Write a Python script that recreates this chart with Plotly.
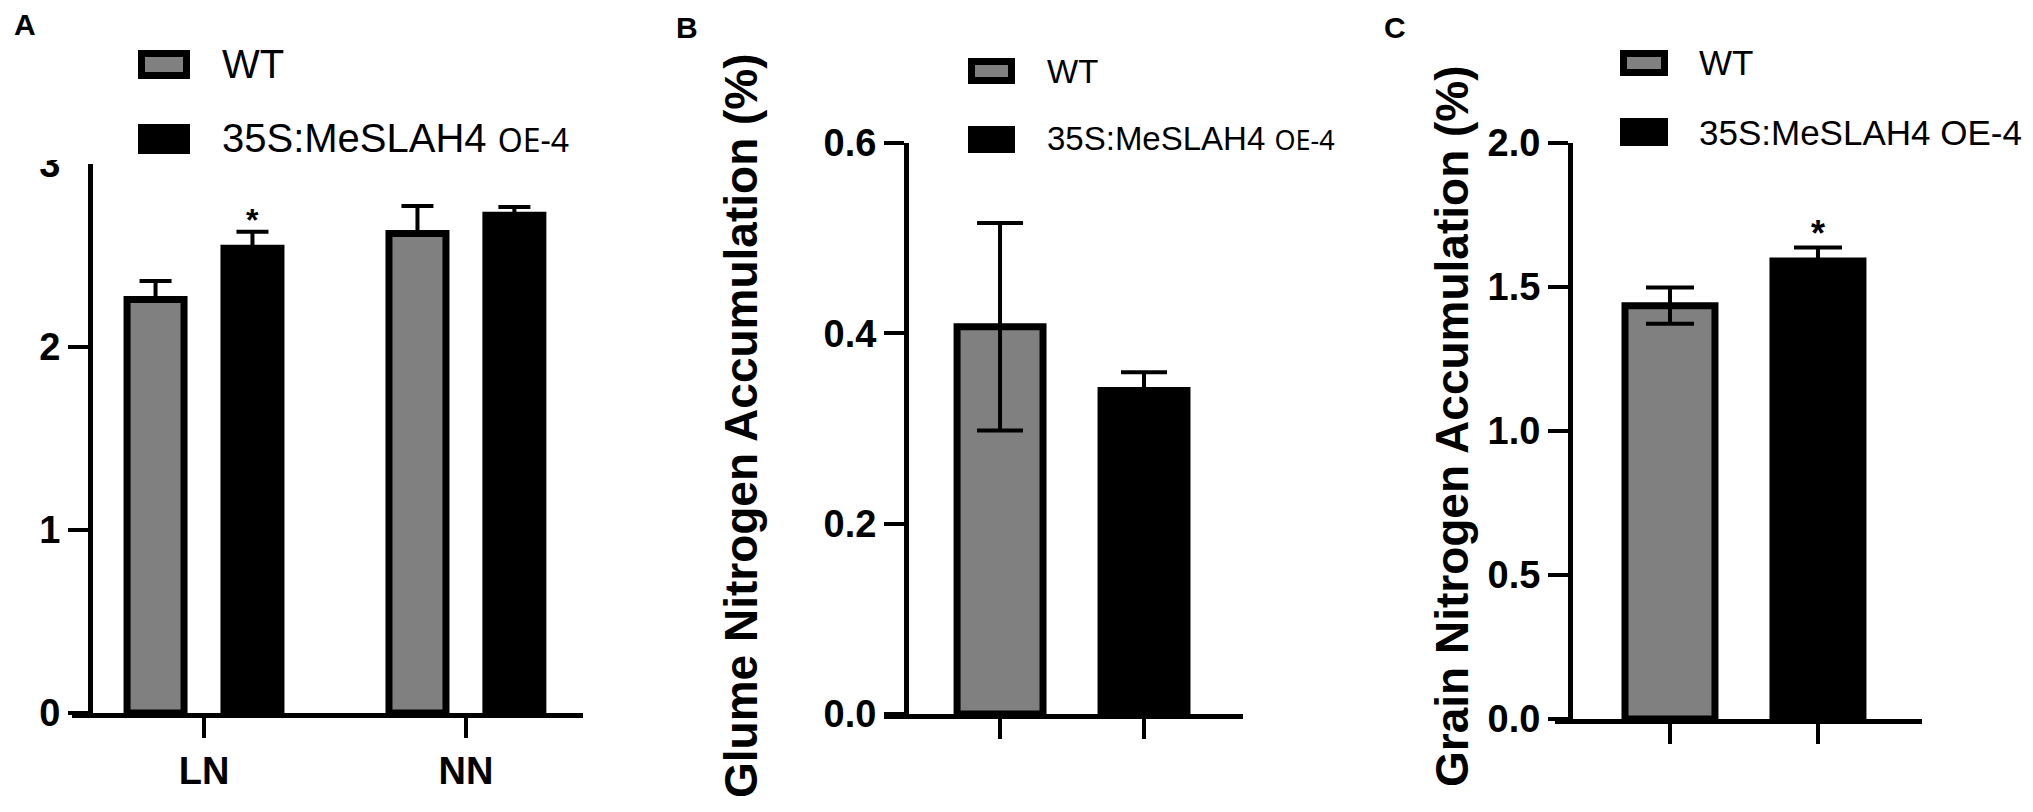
import plotly.graph_objects as go

# The page body keeps the browser's default 8px margin, so the figure is made
# 16px smaller than the window and all pixel positions are shifted by 8px.
WIN_W, WIN_H = 2033, 812
OFF = 8
W, H = WIN_W - 2 * OFF, WIN_H - 2 * OFF

# ---------------- data ----------------
series = ["WT", "35S:MeSLAH4 OE-4"]

a_categories = ["LN", "NN"]
a_wt = [2.26, 2.62]
a_wt_err = [0.10, 0.15]
a_oe = [2.54, 2.72]
a_oe_err = [0.09, 0.045]
a_ticks = [0, 1, 2, 3]

b_values = [0.407, 0.340]
b_err = [0.109, 0.019]
b_ticks = [0.0, 0.2, 0.4, 0.6]
b_title = "Glume Nitrogen Accumulation (%)"

c_values = [1.435, 1.59]
c_err = [0.063, 0.047]
c_ticks = [0.0, 0.5, 1.0, 1.5, 2.0]
c_title = "Grain Nitrogen Accumulation (%)"

panel_letters = ["A", "B", "C"]

# ---------------- style ----------------
GREY = "rgb(128,128,128)"
BLACK = "black"
SANS = "Liberation Sans, Arial, sans-serif"
TICKFONT = dict(family=SANS, size=38, color="black", weight="bold")


def px(x):
    return (x - OFF) / W


def py(y):
    return 1 - (y - OFF) / H


fig = go.Figure()

# Panel A (grouped bars)
bw_a = 0.2176
ctr_a = 0.185
fig.add_trace(go.Bar(
    x=a_categories, y=a_wt, name=series[0], width=bw_a, offset=-ctr_a - bw_a / 2,
    marker=dict(color=GREY, line=dict(color=BLACK, width=7)),
    error_y=dict(type="data", array=a_wt_err, arrayminus=[0] * len(a_wt_err), symmetric=False,
                 color=BLACK, thickness=4, width=16),
    xaxis="x", yaxis="y", showlegend=False))
fig.add_trace(go.Bar(
    x=a_categories, y=a_oe, name=series[1], width=bw_a, offset=ctr_a - bw_a / 2,
    marker=dict(color=BLACK, line=dict(color=BLACK, width=7)),
    error_y=dict(type="data", array=a_oe_err, arrayminus=[0] * len(a_oe_err), symmetric=False,
                 color=BLACK, thickness=4, width=16),
    xaxis="x", yaxis="y", showlegend=False))

# Panel B
bw_b = 0.597
fig.add_trace(go.Bar(
    x=series, y=b_values, width=bw_b, offset=-bw_b / 2,
    marker=dict(color=[GREY, BLACK], line=dict(color=BLACK, width=7)),
    error_y=dict(type="data", array=b_err, color=BLACK, thickness=4, width=23),
    xaxis="x2", yaxis="y2", showlegend=False))

# Panel C
bw_c = 0.608
fig.add_trace(go.Bar(
    x=series, y=c_values, width=bw_c, offset=-bw_c / 2,
    marker=dict(color=[GREY, BLACK], line=dict(color=BLACK, width=7)),
    error_y=dict(type="data", array=c_err, color=BLACK, thickness=4, width=24),
    xaxis="x3", yaxis="y3", showlegend=False))

axis_common = dict(showline=True, linewidth=5, linecolor=BLACK, ticks="outside", ticklen=20,
                   tickwidth=4, tickcolor=BLACK, showgrid=False, zeroline=False, automargin=False)

layout = dict(
    width=W, height=H, margin=dict(l=0, r=0, t=0, b=0, pad=0, autoexpand=False),
    paper_bgcolor="white", plot_bgcolor="white", barmode="overlay",
    xaxis=dict(domain=[px(72), px(583)], range=[-0.504, 1.447], anchor="y",
               tickfont=dict(family=SANS, size=38, color="black", weight="bold"), **axis_common),
    yaxis=dict(domain=[py(713), py(164)], range=[0, 3], anchor="free", position=px(90),
               tickvals=a_ticks, tickfont=TICKFONT, **axis_common),
    xaxis2=dict(domain=[px(884), px(1243)], range=[-0.806, 1.6875], anchor="y2",
                showticklabels=False, **axis_common),
    yaxis2=dict(domain=[py(714), py(143)], range=[0, 0.6], anchor="free", position=px(906),
                tickvals=b_ticks, tickformat=".1f", tickfont=TICKFONT, **axis_common),
    xaxis3=dict(domain=[px(1555), px(1922)], range=[-0.777, 1.703], anchor="y3",
                showticklabels=False, **axis_common),
    yaxis3=dict(domain=[py(719), py(143)], range=[0, 2.0], anchor="free", position=px(1570),
                tickvals=c_ticks, tickformat=".1f", tickfont=TICKFONT, **axis_common),
)
fig.update_layout(**layout)

shapes = []
annotations = []

# panel letters
for letter, (lx, ly) in zip(panel_letters, [(25, 25), (687, 27), (1395, 27)]):
    annotations.append(dict(text=letter, x=px(lx), y=py(ly), xref="paper", yref="paper",
                            xanchor="center", yanchor="middle", showarrow=False,
                            font=dict(family=SANS, size=30, color="black", weight="bold")))

# y-axis titles
for title, tx in [(b_title, 741), (c_title, 1452)]:
    annotations.append(dict(text=title, x=px(tx), y=py(426), xref="paper", yref="paper",
                            xanchor="center", yanchor="middle", textangle=-90, showarrow=False,
                            font=dict(family=SANS, size=46, color="black", weight="bold")))


# legends (swatch boxes + labels)
def legend(x0, x1, rows, text_x, size, oe_size):
    for (y0, y1), name, color in zip(rows, series, [GREY, BLACK]):
        shapes.append(dict(type="rect", xref="paper", yref="paper",
                           x0=px(x0 + 3.5), x1=px(x1 - 3.5), y0=py(y1 - 3.5), y1=py(y0 + 3.5),
                           fillcolor=color, line=dict(color=BLACK, width=7), layer="above"))
        label = name
        if oe_size and " OE-4" in name:
            label = name.replace(
                " OE-4", " <span style='font-family:Noto Sans; font-size:%dpx'>OE-4</span>" % oe_size)
        annotations.append(dict(text=label, x=px(text_x), y=py((y0 + y1) / 2), xref="paper", yref="paper",
                                xanchor="left", yanchor="middle", showarrow=False,
                                font=dict(family=SANS, size=size, color="black")))


legend(138, 190, [(50, 79), (124, 154)], 220, 40, 32)
legend(968, 1015, [(58, 84), (126, 153)], 1045, 33, 27)
legend(1620, 1668, [(50, 76), (118, 146)], 1697, 35, None)

# significance asterisks
annotations.append(dict(text="*", x=0 + ctr_a, y=a_oe[0] + a_oe_err[0], xref="x", yref="y",
                        xanchor="center", yanchor="bottom", showarrow=False, yshift=-8,
                        font=dict(family=SANS, size=32, color="black", weight="bold")))
annotations.append(dict(text="*", x=series[1], y=c_values[1] + c_err[1], xref="x3", yref="y3",
                        xanchor="center", yanchor="bottom", showarrow=False, yshift=-8,
                        font=dict(family=SANS, size=36, color="black", weight="bold")))

# the top "3" of panel A is partly hidden in the original figure
shapes.append(dict(type="rect", xref="paper", yref="paper", x0=px(30), x1=px(87), y0=py(160), y1=py(OFF),
                   fillcolor="white", line=dict(width=0), layer="above"))
shapes.append(dict(type="rect", xref="paper", yref="paper", x0=px(64), x1=px(88), y0=py(168), y1=py(OFF),
                   fillcolor="white", line=dict(width=0), layer="above"))

fig.update_layout(shapes=shapes, annotations=annotations)

fig.write_html("out.html")
